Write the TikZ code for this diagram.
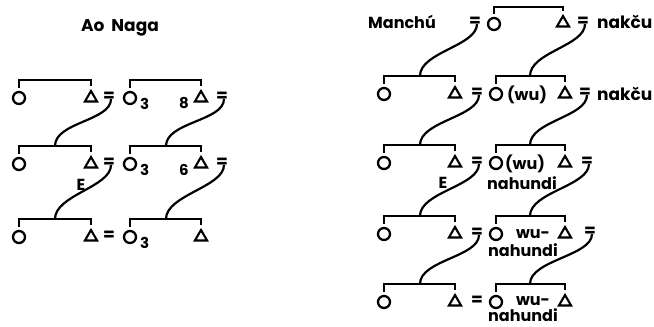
\documentclass[tikz,border=0pt]{standalone}
\usepackage{fontspec}
\setmainfont{Poppins}
\usetikzlibrary{shapes.geometric,positioning}

\tikzset{
  fem/.style={circle,draw,line width=2.3pt,minimum size=12pt,inner sep=0pt},
  mal/.style={regular polygon,regular polygon sides=3,draw,line width=2.1pt,minimum size=14pt,inner sep=0pt},
  sib/.style={line width=2.6pt},
  desc/.style={line width=2.2pt},
  lbl/.style={font=\bfseries\fontsize{16}{16}\selectfont,inner sep=0pt,anchor=base},
  num/.style={font=\bfseries\fontsize{15}{15}\selectfont,inner sep=0pt,anchor=base},
  eq/.style={font=\bfseries\fontsize{17}{17}\selectfont,inner sep=0pt},
}

\begin{document}
\begin{tikzpicture}[x=1pt,y=-1pt]
\useasboundingbox (0,0) rectangle (654,327);
% Ao Naga
\node[lbl,font=\bfseries\fontsize{17}{17}\selectfont] (ao) at (120,31) {Ao\hspace{7pt}Naga};
\foreach \r/\y in {1/98,2/164,3/237}{
  \node[fem] (af\r) at (19,\y) {};
  \node[mal] (am\r) at (91,\y) {};
  \node[eq] (ae\r) at (109,\y-1) {=};
  \node[fem] (bf\r) at (130,\y) {};
  \node[num,anchor=base west] (bn\r) at (140,\y+11) {3};
  \node[mal] (bm\r) at (201,\y) {};
  \coordinate (ab\r) at (55,\y-18);
  \coordinate (bb\r) at (166,\y-18);
  \draw[sib] ([yshift=3pt]af\r.north) |- (ab\r) -| ([yshift=3pt]am\r.north);
  \draw[sib] ([yshift=3pt]bf\r.north) |- (bb\r) -| ([yshift=3pt]bm\r.north);
}
\node[num] (k1) at (184,108) {8};
\node[num] (k2) at (184,175) {6};
\node[eq] (be1) at (222,97) {=};
\node[eq] (be2) at (222,163) {=};
\node[lbl] (ae) at (81,190) {E};
\draw[desc] ([xshift=2pt,yshift=-2pt]ae1.center) .. controls +(0,22) and +(0,-24) .. (ab2);
\draw[desc] ([xshift=2pt,yshift=-2pt]be1.center) .. controls +(0,22) and +(0,-24) .. (bb2);
\draw[desc] ([xshift=2pt,yshift=-2pt]ae2.center) .. controls +(0,22) and +(0,-24) .. (ab3);
\draw[desc] ([xshift=2pt,yshift=-2pt]be2.center) .. controls +(0,22) and +(0,-24) .. (bb3);

% Manchu
\node[lbl,anchor=base west] (ma) at (368,28) {Manchú};
\node[eq] (me0) at (475,22) {=};
\node[fem] (nf1) at (494,24) {};
\node[mal] (nm1) at (563,23) {};
\node[eq] (ne1) at (583,22) {=};
\node[lbl,anchor=base west,font=\bfseries\fontsize{17}{17}\selectfont] (nk1) at (597,28) {nakču};
\coordinate (nb1) at (528,7);
\draw[sib] ([yshift=3pt]nf1.north) |- (nb1) -| ([yshift=3pt]nm1.north);
\foreach \r/\y in {2/94,3/163,4/234,5/302}{
  \node[fem] (mf\r) at (384,\y) {};
  \node[mal] (mm\r) at (455,\y) {};
  \node[eq] (me\r) at (477,\y-1) {=};
  \node[fem] (nf\r) at (496,\y) {};
  \node[mal] (nm\r) at (565,\y) {};
  \coordinate (mb\r) at (420,\y-18);
  \coordinate (nb\r) at (530,\y-18);
  \draw[sib] ([yshift=3pt]mf\r.north) |- (mb\r) -| ([yshift=3pt]mm\r.north);
  \draw[sib] ([yshift=3pt]nf\r.north) |- (nb\r) -| ([yshift=3pt]nm\r.north);
}
\node[eq] (ne2) at (585,93) {=};
\node[eq] (ne3) at (587,162) {=};
\node[eq] (ne4) at (590,232) {=};
\node[lbl,anchor=base west,font=\bfseries\fontsize{17}{17}\selectfont] (nk2) at (597,100) {nakču};
\node[lbl] (w2) at (527,100) {(wu)};
\node[lbl] (w3) at (525,169) {(wu)};
\node[lbl] (h3) at (522,189) {nahundi};
\node[lbl] (w4) at (533,238) {wu-};
\node[lbl] (h4) at (523,256) {nahundi};
\node[lbl] (w5) at (533,305) {wu-};
\node[lbl] (h5) at (523,321) {nahundi};
\node[lbl] (me) at (443,188) {E};
\draw[desc] ([xshift=2pt,yshift=-2pt]me0.center) .. controls +(0,22) and +(0,-24) .. (mb2);
\draw[desc] ([xshift=2pt,yshift=-2pt]ne1.center) .. controls +(0,22) and +(0,-24) .. (nb2);
\draw[desc] ([xshift=2pt,yshift=-2pt]me2.center) .. controls +(0,22) and +(0,-24) .. (mb3);
\draw[desc] ([xshift=2pt,yshift=-2pt]ne2.center) .. controls +(0,22) and +(0,-24) .. (nb3);
\draw[desc] ([xshift=2pt,yshift=-2pt]me3.center) .. controls +(0,22) and +(0,-24) .. (mb4);
\draw[desc] ([xshift=2pt,yshift=-2pt]ne3.center) .. controls +(0,22) and +(0,-24) .. (nb4);
\draw[desc] ([xshift=2pt,yshift=-2pt]me4.center) .. controls +(0,22) and +(0,-24) .. (mb5);
\draw[desc] ([xshift=2pt,yshift=-2pt]ne4.center) .. controls +(0,22) and +(0,-24) .. (nb5);
\end{tikzpicture}
\end{document}
